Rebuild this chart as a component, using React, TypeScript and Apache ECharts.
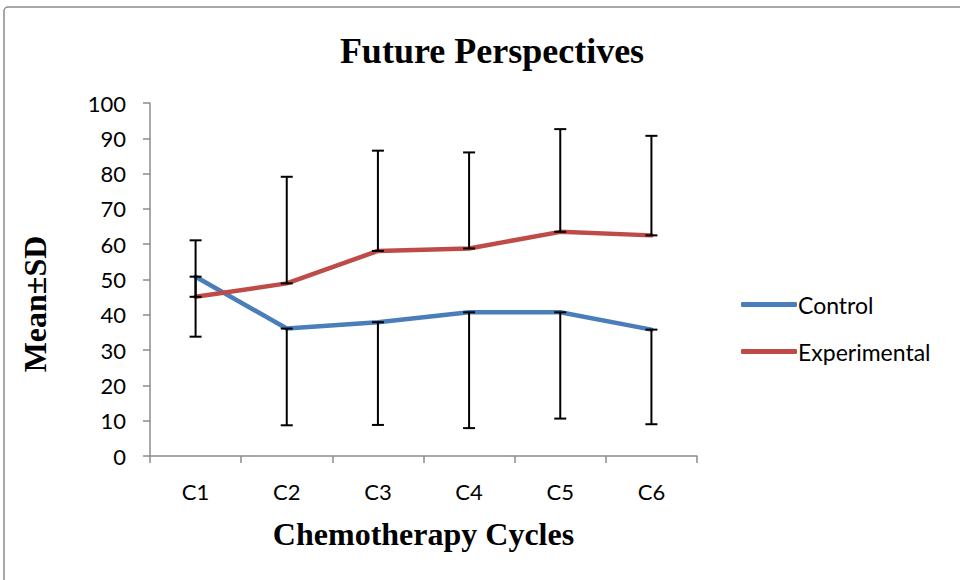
import React, { useEffect, useRef } from "react";
import * as echarts from "echarts";

const categories = ["C1", "C2", "C3", "C4", "C5", "C6"];
const controlMean = [50.8, 36.1, 37.9, 40.7, 40.7, 35.8];
const controlSD = [17, 27.4, 29.1, 32.8, 30.1, 26.8];
const experimentalMean = [45.1, 48.9, 58.1, 58.8, 63.5, 62.5];
const experimentalSD = [16, 30.2, 28.4, 27.2, 29.1, 28.2];
const yTicks = [0, 10, 20, 30, 40, 50, 60, 70, 80, 90, 100];

const serif = "'Liberation Serif', 'DejaVu Serif', serif";
const sans = "Lato, 'Open Sans', sans-serif";

export default function App() {
  const ref = useRef<HTMLDivElement>(null);
  useEffect(() => {
    if (!ref.current) return;
    const chart = echarts.init(ref.current, undefined, { renderer: "svg" });

    const errData: number[][] = [];
    categories.forEach((_, i) => {
      errData.push([i, controlMean[i] - controlSD[i], controlMean[i]]);
      errData.push([i, experimentalMean[i], experimentalMean[i] + experimentalSD[i]]);
    });

    chart.setOption({
      animation: false,
      backgroundColor: "#fff",
      title: {
        text: "Future Perspectives",
        left: 487,
        top: 28,
        textAlign: "center",
        textStyle: { fontFamily: serif, fontWeight: "bold", fontSize: 36, color: "#000" },
      },
      graphic: [
        {
          type: "rect",
          shape: { x: 4, y: 7, width: 962, height: 580, r: 4 },
          style: { fill: "none", stroke: "#8c8c8c", lineWidth: 1.5 },
          silent: true,
        },
        {
          type: "text",
          x: 35,
          y: 304,
          rotation: Math.PI / 2,
          style: {
            text: "Mean±SD",
            fontFamily: serif,
            fontWeight: "bold",
            fontSize: 32,
            fill: "#000",
            align: "center",
            verticalAlign: "middle",
          },
          silent: true,
        },
      ],
      legend: {
        orient: "vertical",
        left: 736,
        top: 288,
        itemGap: 24,
        itemWidth: 56,
        itemHeight: 5,
        icon: "roundRect",
        data: ["Control", "Experimental"],
        textStyle: { fontFamily: sans, fontSize: 23, color: "#000", padding: [0, 0, 0, -4] },
      },
      grid: { left: 150, top: 103, right: 263, bottom: 124 },
      xAxis: {
        type: "category",
        data: categories,
        boundaryGap: true,
        name: "Chemotherapy Cycles",
        nameLocation: "middle",
        nameGap: 62,
        nameTextStyle: { fontFamily: serif, fontWeight: "bold", fontSize: 32, color: "#000" },
        axisLine: { lineStyle: { color: "#8c8c8c", width: 1.5 } },
        axisTick: { show: true, alignWithLabel: false, length: 7, lineStyle: { color: "#8c8c8c", width: 1.5 } },
        axisLabel: { fontFamily: sans, fontSize: 22, color: "#000", margin: 24 },
        splitLine: { show: false },
      },
      yAxis: {
        type: "value",
        min: 0,
        max: 100,
        interval: 10,
        axisLine: { show: true, lineStyle: { color: "#8c8c8c", width: 1.5 } },
        axisTick: { show: true, length: 7, lineStyle: { color: "#8c8c8c", width: 1.5 } },
        axisLabel: {
          fontFamily: sans,
          fontSize: 22,
          color: "#000",
          margin: 24,
          formatter: (v: number) => (yTicks.includes(v) ? String(v) : ""),
        },
        splitLine: { show: false },
      },
      series: [
        {
          name: "Control",
          type: "line",
          data: controlMean,
          symbol: "none",
          color: "#4A7EBB",
          lineStyle: { width: 4.5, color: "#4A7EBB", cap: "round" },
          z: 3,
        },
        {
          name: "Experimental",
          type: "line",
          data: experimentalMean,
          symbol: "none",
          color: "#BE4B48",
          lineStyle: { width: 4.5, color: "#BE4B48", cap: "round" },
          z: 3,
        },
        {
          type: "custom",
          name: "errors",
          data: errData,
          encode: { x: 0, y: [1, 2] },
          z: 4,
          renderItem: (params: any, api: any) => {
            const x = api.value(0);
            const lo = api.coord([x, api.value(1)]);
            const hi = api.coord([x, api.value(2)]);
            const cap = 6;
            const style = { stroke: "#000", lineWidth: 2 };
            return {
              type: "group",
              children: [
                { type: "line", shape: { x1: lo[0], y1: lo[1], x2: hi[0], y2: hi[1] }, style },
                { type: "line", shape: { x1: lo[0] - cap, y1: lo[1], x2: lo[0] + cap, y2: lo[1] }, style },
                { type: "line", shape: { x1: hi[0] - cap, y1: hi[1], x2: hi[0] + cap, y2: hi[1] }, style },
              ],
            };
          },
        },
      ],
    });
    return () => chart.dispose();
  }, []);

  return <div ref={ref} style={{ width: 960, height: 580, position: "absolute", left: 0, top: 0 }} />;
}
